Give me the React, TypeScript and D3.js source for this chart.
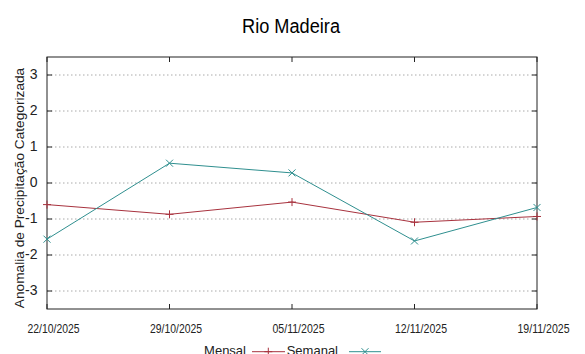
import React from "react";
import * as d3 from "d3";

const dates = ["22/10/2025", "29/10/2025", "05/11/2025", "12/11/2025", "19/11/2025"];
const mensal = [-0.6, -0.87, -0.53, -1.09, -0.93];
const semanal = [-1.56, 0.55, 0.28, -1.61, -0.68];
const yTicks = [-3, -2, -1, 0, 1, 2, 3];

const W = 585;
const H = 354;
const M = { left: 47, right: 537, top: 57, bottom: 309 };
const RED = "#a8323e";
const TEAL = "#2f8f8f";
const FONT = "'Liberation Sans', Arial, sans-serif";

export default function App() {
  const x = d3.scalePoint<string>().domain(dates).range([M.left, M.right]);
  const y = d3.scaleLinear().domain([-3.5, 3.5]).range([M.bottom, M.top]);
  const line = d3
    .line<number>()
    .x((_, i) => x(dates[i]) as number)
    .y((d) => y(d));

  const plus = (cx: number, cy: number, c: string, k: string) => (
    <path key={k} d={`M${cx - 4},${cy}H${cx + 4}M${cx},${cy - 4}V${cy + 4}`} stroke={c} strokeWidth={1} fill="none" />
  );
  const cross = (cx: number, cy: number, c: string, k: string) => (
    <path key={k} d={`M${cx - 3.5},${cy - 3.5}L${cx + 3.5},${cy + 3.5}M${cx - 3.5},${cy + 3.5}L${cx + 3.5},${cy - 3.5}`} stroke={c} strokeWidth={1} fill="none" />
  );

  return (
    <svg width={W} height={H} style={{ position: "absolute", left: 0, top: 0 }} fontFamily={FONT}>
      <rect width={W} height={H} fill="#fff" />
      <text x={291} y={32.7} textAnchor="middle" fontSize={20} textLength={98} lengthAdjust="spacingAndGlyphs" fill="#000">
        Rio Madeira
      </text>

      {/* horizontal grid */}
      {yTicks.map((t) => (
        <line key={"g" + t} x1={M.left} x2={M.right} y1={y(t)} y2={y(t)} stroke="#aaa" strokeWidth={1} strokeDasharray="1.5,2.5" />
      ))}

      {/* y ticks (both sides) and labels */}
      {yTicks.map((t) => (
        <g key={"y" + t}>
          <line x1={M.left} x2={M.left + 5} y1={y(t)} y2={y(t)} stroke="#222" />
          <line x1={M.right - 5} x2={M.right} y1={y(t)} y2={y(t)} stroke="#222" />
          <text x={37.5} y={y(t) + 3.5} textAnchor="end" fontSize={14} fill="#222">
            {t}
          </text>
        </g>
      ))}

      {/* x ticks (both sides) and labels */}
      {dates.map((d) => {
        const px = x(d) as number;
        return (
          <g key={"x" + d}>
            <line x1={px} x2={px} y1={M.bottom} y2={M.bottom - 5} stroke="#222" />
            <line x1={px} x2={px} y1={M.top} y2={M.top + 5} stroke="#222" />
            <text x={px + 6.5} y={332.7} textAnchor="middle" fontSize={13} textLength={52} lengthAdjust="spacingAndGlyphs" fill="#222">
              {d}
            </text>
          </g>
        );
      })}

      {/* frame */}
      <rect x={M.left} y={M.top} width={M.right - M.left} height={M.bottom - M.top} fill="none" stroke="#222" strokeWidth={1} />

      {/* series */}
      <path d={line(mensal) || ""} fill="none" stroke={RED} strokeWidth={1} />
      <path d={line(semanal) || ""} fill="none" stroke={TEAL} strokeWidth={1} />
      {mensal.map((v, i) => plus(x(dates[i]) as number, y(v), RED, "pm" + i))}
      {semanal.map((v, i) => cross(x(dates[i]) as number, y(v), TEAL, "cs" + i))}

      {/* y axis label */}
      <text transform={`translate(23.5,188) rotate(-90)`} textAnchor="middle" fontSize={13.7} fill="#222">
        Anomalia de Precipitação Categorizada
      </text>

      {/* legend */}
      <text x={246} y={355} textAnchor="end" fontSize={13} fill="#222">
        Mensal
      </text>
      <line x1={252} x2={285} y1={351.7} y2={351.7} stroke={RED} />
      {plus(268.3, 351.7, RED, "lp")}
      <text x={338} y={355} textAnchor="end" fontSize={13} fill="#222">
        Semanal
      </text>
      <line x1={349} x2={381} y1={351.7} y2={351.7} stroke={TEAL} />
      {cross(365, 351.7, TEAL, "lc")}
    </svg>
  );
}
